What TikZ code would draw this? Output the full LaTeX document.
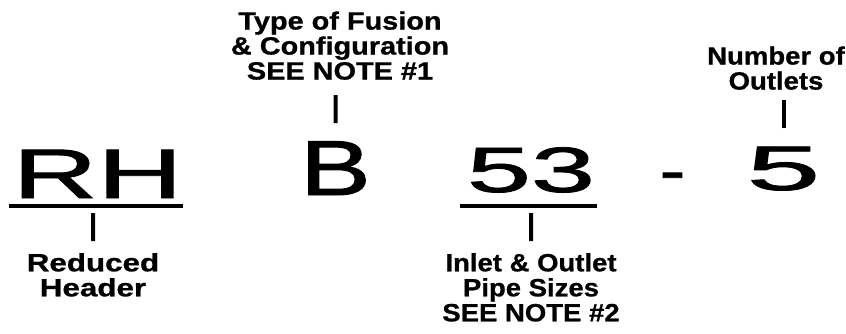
\documentclass[tikz,border=0pt]{standalone}
\usepackage{fontspec}
\setmainfont{Liberation Sans}
\newfontfamily\codefont[FakeBold=1.2]{Liberation Sans}
\newfontfamily\lblfont[BoldFeatures={FakeBold=0.8}]{Liberation Sans}
\usetikzlibrary{positioning}

\begin{document}
\begin{tikzpicture}[x=1pt, y=-1pt,
  code/.style={inner sep=0pt, anchor=base},
  lbl/.style={inner sep=0pt, anchor=north, align=center, xscale=1.1,
    font=\lblfont\bfseries\fontsize{25}{25}\selectfont},
  uline/.style={line width=4pt},
  tick/.style={line width=4pt}]

\useasboundingbox (0,0) rectangle (846,333);

% model code
\node[code, xscale=1.68, font=\codefont\fontsize{70}{70}\selectfont] (rh) at (97.5,198) {RH};
\node[code, xscale=1.36, font=\codefont\fontsize{78}{78}\selectfont] (b) at (335.5,195) {B};
\node[code, xscale=1.8, font=\codefont\fontsize{64}{64}\selectfont] (sz) at (531,192) {53};
\node[code, xscale=1.22, font=\codefont\fontsize{63}{63}\selectfont] (dash) at (672.5,192) {-};
\node[code, xscale=2.1, font=\codefont\fontsize{63}{63}\selectfont] (five) at (783.5,190) {5};

% underlines
\draw[uline] (9,206) coordinate (rhl) -- (183,206);
\draw[uline] (460,206) coordinate (szl) -- (597,206);

% labels
\node[lbl, xscale=1.14] (rhlab) at (93,253) {Reduced\\Header};
\node[lbl] (szlab) at (531,253) {Inlet \& Outlet\\Pipe Sizes\\SEE NOTE \#2};
\node[lbl, anchor=south, xscale=1.05] (blab) at (340,80) {Type of Fusion\\\& Configuration\\SEE NOTE \#1};
\node[lbl, anchor=south] (olab) at (776,90) {Number of\\Outlets};

% ticks
\draw[tick, shorten <=12pt, shorten >=7pt] (rhlab) -- (rhlab |- rhl);
\draw[tick, shorten <=12pt, shorten >=7pt] (szlab) -- (szlab |- szl);
\draw[tick, shorten <=18pt, shorten >=15pt] (b) -- (b |- blab.south);
\draw[tick, shorten <=18pt, shorten >=10pt] (five) -- (five |- olab.south);

\end{tikzpicture}
\end{document}
